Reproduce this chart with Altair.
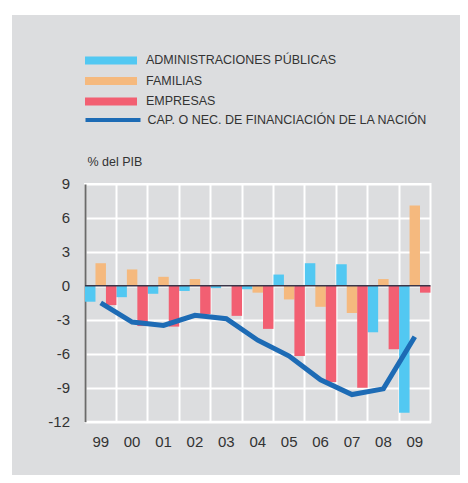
import altair as alt
import pandas as pd

years = ["99", "00", "01", "02", "03", "04", "05", "06", "07", "08", "09"]
series = ["ADMINISTRACIONES PÚBLICAS", "FAMILIAS", "EMPRESAS"]
admin = [-1.4, -1.0, -0.7, -0.45, -0.2, -0.3, 1.0, 2.0, 1.9, -4.1, -11.2]
familias = [2.0, 1.45, 0.8, 0.6, 0.0, -0.6, -1.2, -1.85, -2.4, 0.6, 7.1]
empresas = [-1.7, -3.55, -3.6, -2.5, -2.65, -3.8, -6.2, -8.5, -9.0, -5.6, -0.6]
line_name = "CAP. O NEC. DE FINANCIACIÓN DE LA NACIÓN"
nacion = [-1.5, -3.2, -3.5, -2.6, -2.9, -4.8, -6.2, -8.3, -9.6, -9.1, -4.5]
y_ticks = [-12, -9, -6, -3, 0, 3, 6, 9]
colors = ["#52c8f2", "#f5b97e", "#f25f72"]
line_color = "#1d6bb5"
bg = "#dcdddf"
font = "Liberation Sans"

rows = []
for name, vals in zip(series, [admin, familias, empresas]):
    for yr, v in zip(years, vals):
        rows.append({"year": yr, "serie": name, "value": v})
bars_df = pd.DataFrame(rows)
line_df = pd.DataFrame({"year": years, "value": nacion, "serie": [line_name] * len(years)})

W = 345.5
H = 237.7

x_axis = alt.Axis(title=None, labelAngle=0, labelFont=font, labelFontSize=15,
                  labelColor="#333333", labelPadding=13, tickSize=0,
                  domain=False, grid=True, gridColor="white", gridWidth=2,
                  bandPosition=0, labelOverlap=False)
x_scale = alt.Scale(paddingInner=0, paddingOuter=0)
y_axis = alt.Axis(values=y_ticks, title="% del PIB", titleAngle=0, titleX=2, titleY=-18,
                  titleAlign="left", titleBaseline="alphabetic", titleFont=font,
                  titleFontSize=12.5, titleFontWeight="normal", titleColor="#333333",
                  labelFont=font, labelFontSize=15, labelColor="#333333",
                  labelExpr="'' + datum.value", labelOverlap=False,
                  labelPadding=15.5, tickSize=0, domainColor="#6a6a6a", domainWidth=2,
                  grid=True, gridColor="white", gridWidth=2)
y_scale = alt.Scale(domain=[-12, 9], nice=False, zero=False)

# white page strips (left and top) around the grey panel
strip_left = alt.Chart(alt.Data(values=[{"a": 1}])).mark_rect(color="white").encode(
    x=alt.value(-77), x2=alt.value(-73), y=alt.value(-176), y2=alt.value(299)
)
strip_top = alt.Chart(alt.Data(values=[{"a": 1}])).mark_rect(color="white").encode(
    x=alt.value(-77), x2=alt.value(383), y=alt.value(-176), y2=alt.value(-169)
)

bars = alt.Chart(bars_df).mark_bar(strokeWidth=0).encode(
    x=alt.X("year:N", sort=years, scale=x_scale, axis=x_axis),
    xOffset=alt.XOffset("serie:N", sort=series, scale=alt.Scale(paddingInner=0, paddingOuter=0)),
    y=alt.Y("value:Q", scale=y_scale, axis=y_axis),
    color=alt.Color("serie:N", sort=series,
                    scale=alt.Scale(domain=series, range=colors),
                    legend=alt.Legend(title=None, orient="none", legendX=0, legendY=-129.5,
                                      direction="vertical", padding=0,
                                      symbolType="M-1,-0.15L1,-0.15L1,0.15L-1,0.15Z",
                                      symbolSize=2704, symbolStrokeWidth=0, clipHeight=12,
                                      rowPadding=7.5, labelOffset=9, labelFont=font,
                                      labelFontSize=12.5, labelColor="#333333", labelLimit=400)),
)

zero = alt.Chart(alt.Data(values=[{"z": 0}])).mark_rule(color="#3a3548", strokeWidth=1.5).encode(
    y=alt.Y("z:Q", scale=y_scale, axis=y_axis)
)

line = alt.Chart(line_df).mark_line(strokeWidth=5, strokeCap="butt").encode(
    x=alt.X("year:N", sort=years, scale=x_scale, axis=x_axis),
    y=alt.Y("value:Q", scale=y_scale, axis=y_axis),
    stroke=alt.Stroke("serie:N", scale=alt.Scale(domain=[line_name], range=[line_color]),
                      legend=alt.Legend(title=None, orient="none", legendX=-1.5, legendY=-70,
                                        padding=0, symbolType="M-1,0L1,0", symbolSize=3025,
                                        symbolStrokeWidth=4, clipHeight=12, labelOffset=5,
                                        labelFont=font, labelFontSize=12.5,
                                        labelColor="#333333", labelLimit=400)),
)

chart = alt.layer(strip_left, strip_top, bars, zero, line).properties(
    width=W, height=H,
    autosize=alt.AutoSizeParams(type="none"),
    padding={"left": 77, "top": 176, "right": 29.5, "bottom": 53},
    background=bg,
).configure_view(stroke="white", strokeWidth=2).resolve_legend(color="independent", stroke="independent")

chart.save("out.html", embed_options={"renderer": "svg", "actions": False})
